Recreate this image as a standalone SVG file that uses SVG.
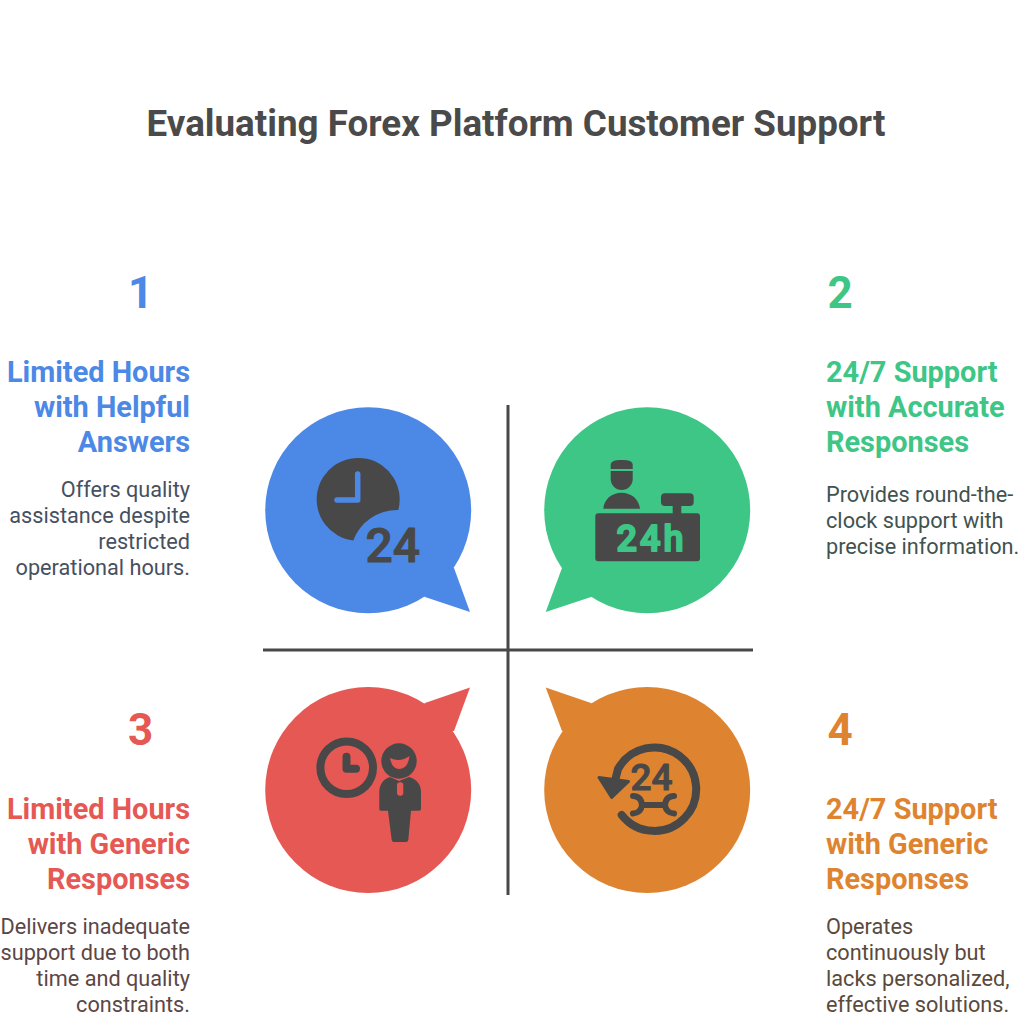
<svg xmlns="http://www.w3.org/2000/svg" width="1024" height="1024" viewBox="0 0 1024 1024">
<style>
text{font-family:Roboto,"Liberation Sans",sans-serif}
.title{font-size:36.750px;font-weight:700;fill:#4a4a4a}
.num{font-size:44px;font-weight:700}
.head{font-size:28.900px;font-weight:700}
.body{font-size:21.700px;font-weight:400}
.end{text-anchor:end}
.dark{fill:#484848}
.blue{fill:#4c88e6}.green{fill:#3dc685}.red{fill:#e65854}.orange{fill:#de8431}
.lg{stroke-linecap:round;stroke-linejoin:round;fill:none}
.ico{font-weight:500;stroke-linejoin:round}
</style>
<rect width="1024" height="1024" fill="#fff"/>
<text class="title" x="516" y="136" text-anchor="middle">Evaluating Forex Platform Customer Support</text>
<g id="connectors" stroke="#484848" stroke-width="3" fill="none">
<path d="M508 405V895"/>
<path d="M263 650H753"/>
</g>
<g id="node-1">
<circle class="blue" cx="368.200" cy="510.300" r="103"/>
<path class="blue" d="M454 568L470 612L425 597L400 570Z"/>
<path class="dark" d="M398.300 510A41.500 41.500 0 1 0 353.300 540.600A47 47 0 0 1 398.300 510Z"/>
<path class="lg" stroke="#4c88e6" stroke-width="5.500" d="M357.700 474V500H337"/>
<text class="ico dark" x="365.500" y="561.500" font-size="48" stroke="#484848" stroke-width="1">24</text>
<text class="num blue" x="140.500" y="308" text-anchor="middle">1</text>
<g class="head blue end"><text x="190" y="381.700">Limited Hours</text><text x="190" y="416.700">with Helpful</text><text x="190" y="451.700">Answers</text></g>
<g class="body end" fill="#47505f"><text x="190" y="496.700">Offers quality</text><text x="190" y="522.700">assistance despite</text><text x="190" y="548.700">restricted</text><text x="190" y="574.700">operational hours.</text></g>
</g>
<g id="node-2">
<circle class="green" cx="647.200" cy="510.300" r="103"/>
<path class="green" d="M562 568L545.700 612L591 597L615 570Z"/>
<rect class="dark" x="595.300" y="513.300" width="104.700" height="48" rx="3"/>
<rect class="dark" x="672.700" y="504" width="8.600" height="10"/>
<rect class="dark" x="661" y="493.300" width="32.700" height="12.700" rx="4"/>
<path class="dark" d="M603.300 508.700C604 499 612 492.700 621.500 492.700C631 492.700 639 499 640 508.700Z"/>
<path class="dark" d="M610.700 469V465C610.700 461 615 460 621.700 460C628.500 460 632.700 461 632.700 465V469Z"/>
<path class="dark" d="M610.700 471H632.700V479A11 11 0 0 1 610.700 479Z"/>
<text class="ico green" x="616.500" y="551" font-size="36" stroke="#3dc685" stroke-width="2" letter-spacing="3">24h</text>
<text class="num green" x="840" y="308" text-anchor="middle">2</text>
<g class="head green"><text x="826" y="381.700">24/7 Support</text><text x="826" y="416.700">with Accurate</text><text x="826" y="451.700">Responses</text></g>
<g class="body" fill="#3f5350"><text x="826" y="501.700">Provides round-the-</text><text x="826" y="527.700">clock support with</text><text x="826" y="553.700">precise information.</text></g>
</g>
<g id="node-3">
<circle class="red" cx="368.200" cy="790" r="103"/>
<path class="red" d="M454 731L470 687.500L425 703L400 730Z"/>
<circle cx="346.700" cy="767.700" r="26.300" fill="none" stroke="#484848" stroke-width="8"/>
<path class="lg" stroke="#484848" stroke-width="8" d="M346.500 756.700V768.700H356"/>
<circle class="dark" cx="399" cy="761" r="17.700"/>
<path class="red" d="M390 758Q400 763 409.500 756Q408 769 399 769Q392 769 390 758Z"/>
<path class="dark" d="M390 777L399 781L409 777C417 779 421 785 421 792V809Q421 810.700 419 810.700H411L408.300 840Q408 842 406 842H394Q392 842 391.700 840L388 810.700H381Q379.300 810.700 379.300 809V792C379.300 785 383 779 390 777Z"/>
<rect class="red" x="397" y="782.300" width="6.300" height="13.400" rx="3"/>
<text class="num red" x="140.500" y="745" text-anchor="middle">3</text>
<g class="head red end"><text x="190" y="818.700">Limited Hours</text><text x="190" y="853.700">with Generic</text><text x="190" y="888.700">Responses</text></g>
<g class="body end" fill="#5c4646"><text x="190" y="933.700">Delivers inadequate</text><text x="190" y="959.700">support due to both</text><text x="190" y="985.700">time and quality</text><text x="190" y="1011.700">constraints.</text></g>
</g>
<g id="node-4">
<circle class="orange" cx="647.200" cy="790" r="103"/>
<path class="orange" d="M562 731L545.700 687.500L591 703L615 730Z"/>
<path class="lg" stroke="#484848" stroke-width="8" d="M621.700 815A41.700 41.700 0 1 0 618 769L614 785"/>
<path class="dark" stroke="#484848" stroke-width="3" stroke-linejoin="round" d="M599 777.500L628.500 781.500L611.700 797.500Z"/>
<text class="ico dark" x="630.500" y="790" font-size="37" stroke="#484848" stroke-width="1">24</text>
<path class="lg" stroke="#484848" stroke-width="6" d="M633 796Q641 796 642 805Q641 813 633 813.500M674 796Q666 796 665 805Q666 813 674 813.500M642 805H665"/>
<text class="num orange" x="840" y="745" text-anchor="middle">4</text>
<g class="head orange"><text x="826" y="818.700">24/7 Support</text><text x="826" y="853.700">with Generic</text><text x="826" y="888.700">Responses</text></g>
<g class="body" fill="#5a4a3c"><text x="826" y="933.700">Operates</text><text x="826" y="959.700">continuously but</text><text x="826" y="985.700">lacks personalized,</text><text x="826" y="1011.700">effective solutions.</text></g>
</g>
</svg>
